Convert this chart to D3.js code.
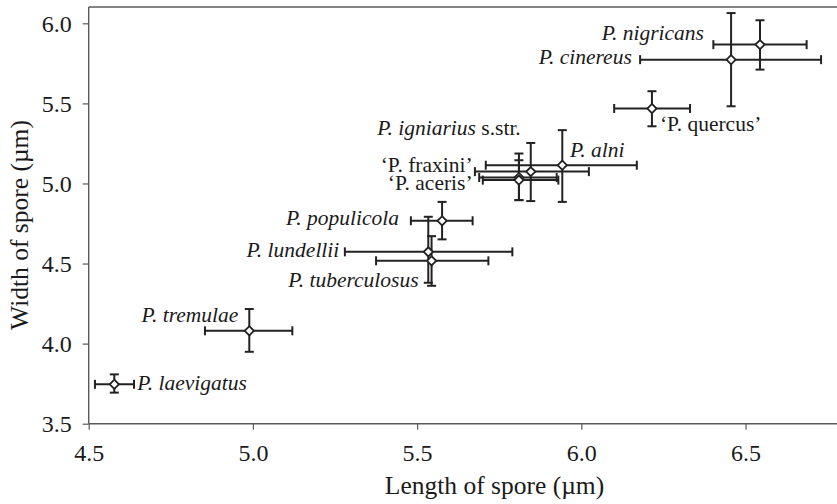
<!DOCTYPE html>
<html>
<head>
<meta charset="utf-8">
<script src="https://cdn.jsdelivr.net/npm/d3@7/dist/d3.min.js"></script>
</head>
<body style="margin:0;background:#fff">
<svg id="chart" width="837" height="504"></svg>
<script>
// ---- data ----
const species = ["P. nigricans", "P. cinereus", "P. quercus", "P. alni", "P. igniarius", "P. fraxini", "P. aceris", "P. populicola", "P. lundellii", "P. tuberculosus", "P. tremulae", "P. laevigatus"];
const lengthMean = [6.544, 6.456, 6.215, 5.942, 5.846, 5.810, 5.810, 5.576, 5.534, 5.544, 4.989, 4.578];
const lengthLow  = [6.402, 6.179, 6.100, 5.709, 5.676, 5.689, 5.700, 5.481, 5.280, 5.375, 4.854, 4.519];
const lengthHigh = [6.686, 6.730, 6.331, 6.169, 6.023, 5.925, 5.930, 5.669, 5.790, 5.717, 5.120, 4.638];
const widthMean  = [5.867, 5.773, 5.468, 5.114, 5.074, 5.037, 5.021, 4.767, 4.573, 4.517, 4.080, 3.746];
const widthLow   = [5.711, 5.482, 5.357, 4.885, 4.890, 4.896, 4.896, 4.651, 4.380, 4.361, 3.949, 3.694];
const widthHigh  = [6.019, 6.064, 5.576, 5.333, 5.253, 5.187, 5.145, 4.885, 4.792, 4.671, 4.216, 3.808];
// label text parts: italic part, upright part
const labelItalic  = ["P. nigricans", "P. cinereus", "", "P. alni", "P. igniarius", "", "", "P. populicola", "P. lundellii", "P. tuberculosus", "P. tremulae", "P. laevigatus"];
const labelUpright = ["", "", "\u2018P. quercus\u2019", "", " s.str.", "\u2018P. fraxini\u2019", "\u2018P. aceris\u2019", "", "", "", "", ""];
const xTicks = [4.5, 5.0, 5.5, 6.0, 6.5];
const yTicks = [3.5, 4.0, 4.5, 5.0, 5.5, 6.0];
const xTitle = "Length of spore (\u00b5m)";
const yTitle = "Width of spore (\u00b5m)";

// ---- layout (label placement relative to each point) ----
const labelPlace = {
  "P. nigricans":   {dx: -56,   dy: -4.3, anchor: "end"},
  "P. cinereus":    {dx: -99.3, dy: 4.7,  anchor: "end"},
  "P. quercus":     {dx: 8,     dy: 22.4, anchor: "start"},
  "P. alni":        {dx: 7.7,   dy: -8.3, anchor: "start"},
  "P. igniarius":   {dx: -10,   dy: -36.5, anchor: "end"},
  "P. fraxini":     {dx: -46.3, dy: -5.6, anchor: "end"},
  "P. aceris":      {dx: -46.3, dy: 10,   anchor: "end"},
  "P. populicola":  {dx: -43,   dy: 4.3,  anchor: "end"},
  "P. lundellii":   {dx: -89,   dy: 5.6,  anchor: "end"},
  "P. tuberculosus":{dx: -13,   dy: 26,   anchor: "end"},
  "P. tremulae":    {dx: -11,   dy: -9,   anchor: "end"},
  "P. laevigatus":  {dx: 23,    dy: 5.7,  anchor: "start"}
};

const data = species.map((s, i) => ({
  name: s, x: lengthMean[i], x0: lengthLow[i], x1: lengthHigh[i],
  y: widthMean[i], y0: widthLow[i], y1: widthHigh[i],
  it: labelItalic[i], up: labelUpright[i]
}));

const FONT = "Liberation Serif, Tinos, Times New Roman, FreeSerif, serif";
const TXT = "#1a1a1a";
const svg = d3.select("#chart");
const mLeft = 88.7, mRight = 837.5, mTop = 7, mBottom = 423.7;
const x = d3.scaleLinear().domain([4.5, 6.78]).range([mLeft, mRight]);
const y = d3.scaleLinear().domain([3.5, 6.1]).range([mBottom, mTop + 0.3]);

const axisColor = "#5a5a5a";
const barColor = "#222";

function styleText(sel, size) {
  sel.style("font-family", FONT).style("font-size", size + "px").style("fill", TXT);
}

svg.append("line").attr("x1", mLeft).attr("x2", 837).attr("y1", mTop).attr("y2", mTop)
  .attr("stroke", axisColor).attr("stroke-width", 1.4);

const gx = svg.append("g").attr("transform", `translate(0,${mBottom})`)
  .call(d3.axisBottom(x).tickValues(xTicks).tickFormat(d3.format(".1f")).tickSize(6).tickPadding(14).tickSizeOuter(0));
gx.attr("font-family", null).attr("font-size", null);
gx.select(".domain").attr("stroke", axisColor).attr("stroke-width", 1.4);
gx.selectAll(".tick line").attr("stroke", axisColor).attr("stroke-width", 1.2);
styleText(gx.selectAll(".tick text"), 24);

const gy = svg.append("g").attr("transform", `translate(${mLeft},0)`)
  .call(d3.axisLeft(y).tickValues(yTicks).tickFormat(d3.format(".1f")).tickSize(6).tickPadding(11).tickSizeOuter(0));
gy.attr("font-family", null).attr("font-size", null);
gy.select(".domain").attr("stroke", axisColor).attr("stroke-width", 1.4);
gy.selectAll(".tick line").attr("stroke", axisColor).attr("stroke-width", 1.2);
styleText(gy.selectAll(".tick text"), 24);

gx.select(".domain").attr("d", `M${mLeft},0H837`);
gy.select(".domain").attr("d", `M0,${mTop}V${mBottom}`);

styleText(svg.append("text").attr("x", 494.5).attr("y", 494).attr("text-anchor", "middle").text(xTitle), 25.5);
styleText(svg.append("text").attr("transform", "translate(28,225) rotate(-90)").attr("text-anchor", "middle").text(yTitle), 25.5);

const cap = 4.5;
const g = svg.append("g").attr("stroke", barColor).attr("stroke-width", 2).attr("fill", "none");
data.forEach(d => {
  const cx = x(d.x), cy = y(d.y);
  const xl = x(d.x0), xr = x(d.x1), yt = y(d.y1), yb = y(d.y0);
  g.append("line").attr("x1", xl).attr("x2", xr).attr("y1", cy).attr("y2", cy);
  g.append("line").attr("x1", xl).attr("x2", xl).attr("y1", cy - cap).attr("y2", cy + cap);
  g.append("line").attr("x1", xr).attr("x2", xr).attr("y1", cy - cap).attr("y2", cy + cap);
  g.append("line").attr("x1", cx).attr("x2", cx).attr("y1", yt).attr("y2", yb);
  g.append("line").attr("x1", cx - cap).attr("x2", cx + cap).attr("y1", yt).attr("y2", yt);
  g.append("line").attr("x1", cx - cap).attr("x2", cx + cap).attr("y1", yb).attr("y2", yb);
});

svg.append("g").selectAll("path").data(data).join("path")
  .attr("transform", d => `translate(${x(d.x)},${y(d.y)})`)
  .attr("d", "M0,-4.6L4.6,0L0,4.6L-4.6,0Z")
  .attr("fill", "#fff").attr("stroke", barColor).attr("stroke-width", 1.8);

const lg = svg.append("g");
data.forEach(d => {
  const p = labelPlace[d.name];
  const t = lg.append("text").attr("x", x(d.x) + p.dx).attr("y", y(d.y) + p.dy)
    .attr("text-anchor", p.anchor);
  styleText(t, 21.5);
  if (d.it) t.append("tspan").style("font-style", "italic").text(d.it);
  if (d.up) t.append("tspan").text(d.up);
});
</script>
</body>
</html>
